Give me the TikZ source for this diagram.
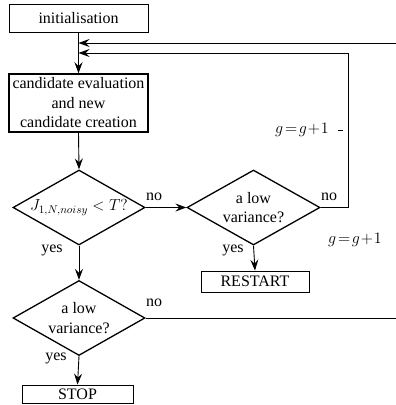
\RequirePackage{fix-cm}
\documentclass[tikz,border=0pt]{standalone}
\usepackage{fontspec}
\setmainfont{Liberation Serif}
\newfontfamily\lserif{Liberation Serif}
\usetikzlibrary{shapes.geometric,arrows.meta}
\begin{document}
\begin{tikzpicture}[x=1pt,y=-1pt,
  every node/.style={font=\lserif\fontsize{16}{19.5}\selectfont},
  box/.style={draw,line width=0.9pt,inner sep=0pt,align=center},
  thickbox/.style={draw,line width=1.5pt,inner sep=0pt,align=center},
  dia/.style={draw,diamond,line width=1.3pt,inner sep=0pt},
  lbl/.style={inner sep=0pt},
  arr/.style={line width=0.9pt,-{Stealth[length=11pt,width=8pt,inset=4pt]}},
  ln/.style={line width=0.9pt}]
\useasboundingbox (0,0) rectangle (396,405);
% boxes
\node[box,minimum width=139pt,minimum height=28pt] (init) at (78.5,18) {initialisation};
\node[thickbox,minimum width=139pt,minimum height=58pt] (cand) at (78.5,103) {candidate evaluation\\and new\\candidate creation};
% diamonds
\node[dia,minimum width=132pt,minimum height=75pt] (d1) at (79,207.5) {};
\node[lbl] (t1) at (d1) {$J_{1,N,noisy} < T?$};
\node[dia,minimum width=133pt,minimum height=75pt] (d2) at (253.5,207.5) {};
\node[lbl,align=center] (t2) at (d2) {a low\\variance?};
\node[dia,minimum width=132pt,minimum height=75pt] (d3) at (79,318) {};
\node[lbl,align=center] (t3) at (d3) {a low\\variance?};
\node[box,minimum width=108pt,minimum height=21pt] (restart) at (255,281.5) {RESTART};
\node[box,minimum width=111pt,minimum height=18pt] (stop) at (77.5,394) {STOP};
% coordinates
\coordinate (in1) at (396,43);
\coordinate (m1) at (78.5,43);
\coordinate (m2) at (78.5,53);
\coordinate (c2a) at (348,207.5);
\coordinate (c2b) at (348,53);
\coordinate (out3) at (396,318);
\coordinate (tk1) at (338,130);
\coordinate (tk2) at (343,130);
% connectors
\draw[arr] (init.south) -- (cand.north);
\draw[arr] (in1) -- (m1);
\draw[arr] (d2.east) -- (c2a) -- (c2b) -- (m2);
\draw[arr] (cand.south) -- (d1.north);
\draw[arr] (d1.east) -- (d2.west);
\draw[arr] (d2.south) -- (restart.north);
\draw[arr] (d1.south) -- (d3.north);
\draw[ln] (d3.east) -- (out3);
\draw[arr] (d3.south) -- (stop.north);
\draw[line width=0.7pt] (tk1) -- (tk2);
% labels
\node[lbl] (no1) at (154,197) {no};
\node[lbl] (no2) at (329,197) {no};
\node[lbl] (no3) at (154,303) {no};
\node[lbl] (yes1) at (52,250) {yes};
\node[lbl] (yes2) at (233,250) {yes};
\node[lbl] (yes3) at (56,358) {yes};
\node[lbl] (g1) at (302,130) {$g\!=\!g\!+\!1$};
\node[lbl] (g2) at (355,240) {$g\!=\!g\!+\!1$};
\end{tikzpicture}
\end{document}
